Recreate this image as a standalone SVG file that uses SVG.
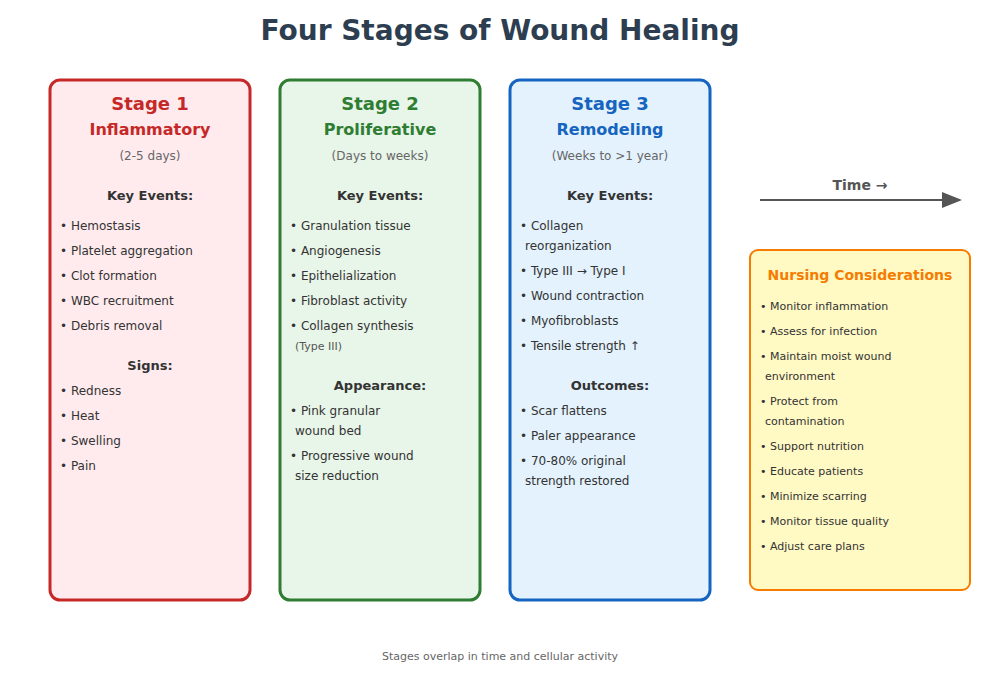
<svg xmlns="http://www.w3.org/2000/svg" width="1000" height="700" viewBox="0 0 1000 700">
<style>
text{font-family:"DejaVu Sans","Noto Sans",sans-serif;fill:#333}
.c{text-anchor:middle}
.st{font-size:18px;font-weight:bold}
.sub{font-size:16px;font-weight:bold}
.dur{font-size:12px;fill:#666}
.h{font-size:13px;font-weight:bold}
.i{font-size:12px}
.n{font-size:11px}
</style>
<defs><marker id="ah" markerWidth="10" markerHeight="8" refX="9" refY="4" orient="auto"><path d="M0,0L10,4L0,8z" fill="#555"/></marker></defs>
<rect width="1000" height="700" fill="#fff"/>
<text x="500" y="40" class="c" style="font-size:28px;font-weight:bold;fill:#2c3e50">Four Stages of Wound Healing</text>
<g id="stage1">
<rect x="50" y="80" width="200" height="520" rx="10" fill="#ffebee" stroke="#c62828" stroke-width="3"/>
<text x="150" y="110" class="c st" style="fill:#c62828">Stage 1</text>
<text x="150" y="135" class="c sub" style="fill:#c62828">Inflammatory</text>
<text x="150" y="160" class="c dur">(2-5 days)</text>
<text x="150" y="200" class="c h">Key Events:</text>
<text x="60" y="230" class="i">• Hemostasis</text>
<text x="60" y="255" class="i">• Platelet aggregation</text>
<text x="60" y="280" class="i">• Clot formation</text>
<text x="60" y="305" class="i">• WBC recruitment</text>
<text x="60" y="330" class="i">• Debris removal</text>
<text x="150" y="370" class="c h">Signs:</text>
<text x="60" y="395" class="i">• Redness</text>
<text x="60" y="420" class="i">• Heat</text>
<text x="60" y="445" class="i">• Swelling</text>
<text x="60" y="470" class="i">• Pain</text>
</g>
<g id="stage2">
<rect x="280" y="80" width="200" height="520" rx="10" fill="#e8f5e9" stroke="#2e7d32" stroke-width="3"/>
<text x="380" y="110" class="c st" style="fill:#2e7d32">Stage 2</text>
<text x="380" y="135" class="c sub" style="fill:#2e7d32">Proliferative</text>
<text x="380" y="160" class="c dur">(Days to weeks)</text>
<text x="380" y="200" class="c h">Key Events:</text>
<text x="290" y="230" class="i">• Granulation tissue</text>
<text x="290" y="255" class="i">• Angiogenesis</text>
<text x="290" y="280" class="i">• Epithelialization</text>
<text x="290" y="305" class="i">• Fibroblast activity</text>
<text x="290" y="330" class="i">• Collagen synthesis</text>
<text x="295" y="350" style="font-size:11px;fill:#555">(Type III)</text>
<text x="380" y="390" class="c h">Appearance:</text>
<text x="290" y="415" class="i">• Pink granular</text>
<text x="295" y="435" class="i">wound bed</text>
<text x="290" y="460" class="i">• Progressive wound</text>
<text x="295" y="480" class="i">size reduction</text>
</g>
<g id="stage3">
<rect x="510" y="80" width="200" height="520" rx="10" fill="#e3f2fd" stroke="#1565c0" stroke-width="3"/>
<text x="610" y="110" class="c st" style="fill:#1565c0">Stage 3</text>
<text x="610" y="135" class="c sub" style="fill:#1565c0">Remodeling</text>
<text x="610" y="160" class="c dur">(Weeks to &gt;1 year)</text>
<text x="610" y="200" class="c h">Key Events:</text>
<text x="520" y="230" class="i">• Collagen</text>
<text x="525" y="250" class="i">reorganization</text>
<text x="520" y="275" class="i">• Type III → Type I</text>
<text x="520" y="300" class="i">• Wound contraction</text>
<text x="520" y="325" class="i">• Myofibroblasts</text>
<text x="520" y="350" class="i">• Tensile strength ↑</text>
<text x="610" y="390" class="c h">Outcomes:</text>
<text x="520" y="415" class="i">• Scar flattens</text>
<text x="520" y="440" class="i">• Paler appearance</text>
<text x="520" y="465" class="i">• 70-80% original</text>
<text x="525" y="485" class="i">strength restored</text>
</g>
<g id="connectors">
<line x1="760" y1="200" x2="960" y2="200" stroke="#555" stroke-width="2" marker-end="url(#ah)"/>
</g>
<g id="time">
<text x="860" y="190" class="c" style="font-size:14px;font-weight:bold;fill:#555">Time →</text>
</g>
<g id="nursing">
<rect x="750" y="250" width="220" height="340" rx="8" fill="#fff9c4" stroke="#f57c00" stroke-width="2"/>
<text x="860" y="280" class="c" style="font-size:14px;font-weight:bold;fill:#f57c00">Nursing Considerations</text>
<text x="760" y="310" class="n">• Monitor inflammation</text>
<text x="760" y="335" class="n">• Assess for infection</text>
<text x="760" y="360" class="n">• Maintain moist wound</text>
<text x="765" y="380" class="n">environment</text>
<text x="760" y="405" class="n">• Protect from</text>
<text x="765" y="425" class="n">contamination</text>
<text x="760" y="450" class="n">• Support nutrition</text>
<text x="760" y="475" class="n">• Educate patients</text>
<text x="760" y="500" class="n">• Minimize scarring</text>
<text x="760" y="525" class="n">• Monitor tissue quality</text>
<text x="760" y="550" class="n">• Adjust care plans</text>
</g>
<text x="500" y="660" class="c" style="font-size:11px;fill:#666">Stages overlap in time and cellular activity</text>
</svg>
